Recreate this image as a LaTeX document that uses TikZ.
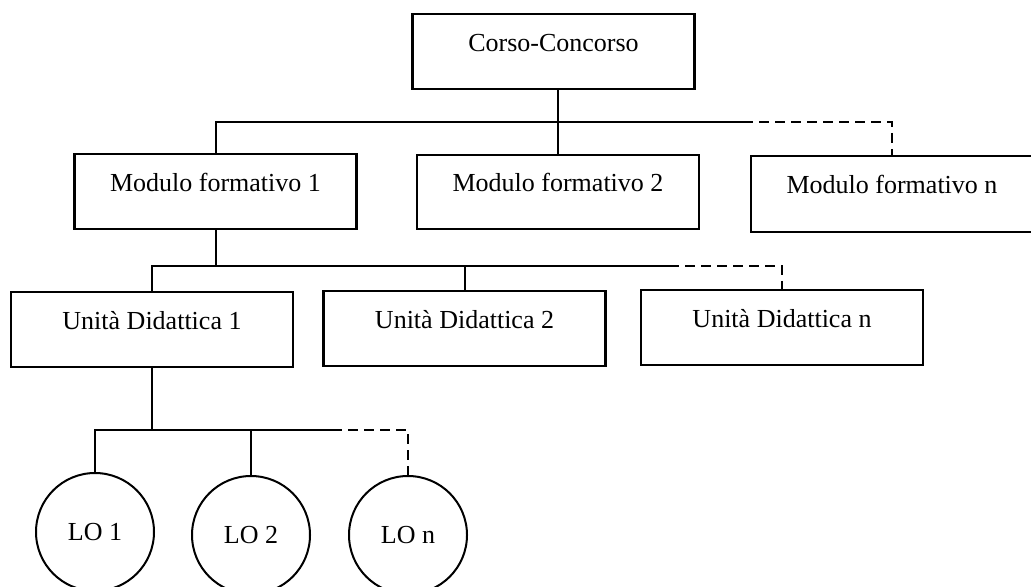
\documentclass[tikz,border=0pt]{standalone}
\usepackage{fontspec}
\setmainfont{Liberation Serif}
\begin{document}
\begin{tikzpicture}[x=0.5pt,y=-0.5pt,
  every node/.style={font=\fontsize{13pt}{15pt}\selectfont},
  box/.style={draw, line width=1.1pt, inner sep=0pt, minimum width=141pt, minimum height=37.5pt, text height=6pt, text depth=6pt},
  lo/.style={draw, circle, line width=1pt, inner sep=0pt, minimum size=59pt},
  conn/.style={line width=1pt},
  dconn/.style={line width=1pt, dash pattern=on 5pt off 3pt}]
\useasboundingbox (0,0) rectangle (1031,587);
\clip (0,0) rectangle (1031,587);
% boxes
\node[box] (corso) at (553.5,51.5) {Corso-Concorso};
\node[box] (m1) at (215.5,191.5) {Modulo formativo 1};
\node[box, minimum height=37pt] (m2) at (558,192) {Modulo formativo 2};
\node[box, minimum height=38pt] (mn) at (892,194) {Modulo formativo n};
\node[box] (u1) at (152,329.5) {Unità Didattica 1};
\node[box] (u2) at (464.5,328.5) {Unità Didattica 2};
\node[box] (un) at (782,327.5) {Unità Didattica n};
\node[lo] (lo1) at (95,532) {LO 1};
\node[lo] (lo2) at (251,535) {LO 2};
\node[lo] (lon) at (408,535) {LO n};
% bus coordinates
\coordinate (b1) at (0,122);
\coordinate (b1e) at (743,122);
\coordinate (b2) at (0,266);
\coordinate (b2e) at (669,266);
\coordinate (b3) at (0,430);
\coordinate (b3e) at (332,430);
% level 1
\draw[conn] (m2.north |- corso.south) -- (m2.north);
\draw[conn] (m1.north) -- (m1.north |- b1) -- (b1e);
\draw[dconn] (b1e) -- (mn.north |- b1) -- (mn.north);
% level 2
\draw[conn] (m1.south) -- (m1.south |- b2);
\draw[conn] (u1.north) -- (u1.north |- b2) -- (b2e);
\draw[conn] (u2.north |- b2) -- (u2.north);
\draw[dconn] (b2e) -- (un.north |- b2) -- (un.north);
% level 3
\draw[conn] (u1.south) -- (u1.south |- b3);
\draw[conn] (lo1.north) -- (lo1.north |- b3) -- (b3e);
\draw[conn] (lo2.north |- b3) -- (lo2.north);
\draw[dconn] (b3e) -- (lon.north |- b3) -- (lon.north);
\end{tikzpicture}
\end{document}
